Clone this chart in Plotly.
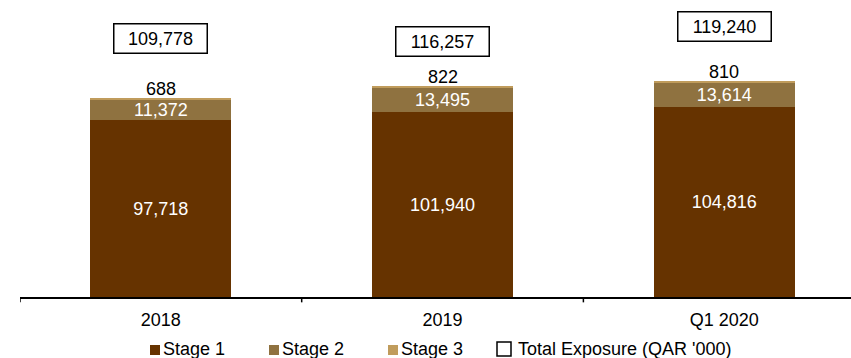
import plotly.graph_objects as go

categories = ["2018", "2019", "Q1 2020"]
stage1 = [97718, 101940, 104816]
stage2 = [11372, 13495, 13614]
stage3 = [688, 822, 810]
total_exposure = [109778, 116257, 119240]

series_names = ["Stage 1", "Stage 2", "Stage 3"]
total_name = "Total Exposure (QAR '000)"

# vertical pixel lift of each boxed total above its bar
total_box_lift = [60, 45, 55]

FONT = "Liberation Sans, Arial, sans-serif"
FS = 18
COLORS = ["#663300", "#8F7240", "#C09C5C"]

W, H = 851, 358
LEFT = 20             # left margin in px
PLOT_BOTTOM_PX = 61   # strip below the baseline reserved for labels and key


def px_x(px):
    """Figure pixel x -> paper fraction."""
    return (px - LEFT) / (W - LEFT)


def px_y(py):
    """Figure pixel y (from top) -> paper fraction."""
    return (H - py) / H


fig = go.Figure()
for vals, name, color in zip([stage1, stage2, stage3], series_names, COLORS):
    labelled = name != "Stage 3"
    fig.add_trace(go.Bar(
        x=categories, y=vals, name=name, marker_color=color,
        text=[f"{v:,}" for v in vals] if labelled else None,
        textposition="inside" if labelled else "none",
        insidetextanchor="middle",
        textfont=dict(color="white", size=FS, family=FONT),
        width=0.5, marker_line_width=0,
    ))

totals_stacked = [a + b + c for a, b, c in zip(stage1, stage2, stage3)]
for i, (top, s3, tot, lift) in enumerate(zip(totals_stacked, stage3, total_exposure, total_box_lift)):
    fig.add_annotation(
        x=i, y=top, text=f"{s3:,}", showarrow=False, yanchor="bottom",
        yshift=-3, font=dict(size=FS, color="black", family=FONT),
    )
    fig.add_annotation(
        x=i, y=top, text=f"{tot:,}", showarrow=False, yanchor="middle",
        yshift=lift, font=dict(size=FS, color="black", family=FONT),
        bordercolor="black", borderwidth=1.5, borderpad=3, bgcolor="white",
        width=86, height=22,
    )

# key along the bottom edge
KEY_Y = 349
KEY_X0, KEY_STEP = 150, 119
for k, (name, color) in enumerate(zip(series_names, COLORS)):
    x0 = KEY_X0 + k * KEY_STEP
    fig.add_shape(
        type="rect", xref="paper", yref="paper",
        x0=px_x(x0), x1=px_x(x0 + 10), y0=px_y(KEY_Y + 6), y1=px_y(KEY_Y - 4),
        fillcolor=color, line_width=0,
    )
    fig.add_annotation(
        xref="paper", yref="paper", x=px_x(x0 + 11), y=px_y(KEY_Y),
        text=name, showarrow=False, xanchor="left", yanchor="middle",
        font=dict(size=FS, color="black", family=FONT),
    )
tx = 497
fig.add_shape(
    type="rect", xref="paper", yref="paper",
    x0=px_x(tx), x1=px_x(tx + 14), y0=px_y(KEY_Y + 7), y1=px_y(KEY_Y - 7),
    fillcolor="white", line=dict(color="black", width=1.5),
)
fig.add_annotation(
    xref="paper", yref="paper", x=px_x(tx + 19), y=px_y(KEY_Y),
    text=total_name, showarrow=False, xanchor="left", yanchor="middle",
    font=dict(size=FS, color="black", family=FONT),
)

fig.update_layout(
    barmode="stack",
    width=W, height=H,
    margin=dict(l=LEFT, r=0, t=0, b=0),
    paper_bgcolor="white", plot_bgcolor="white",
    font=dict(family=FONT, size=FS, color="black"),
    uniformtext=dict(minsize=FS, mode="show"),
    showlegend=False,
    xaxis=dict(
        type="category", range=[-0.5, 2.45],
        showline=True, linecolor="black", linewidth=1.5,
        ticks="", showgrid=False, tickfont=dict(size=FS, family=FONT),
        ticklabelstandoff=6,
    ),
    yaxis=dict(
        range=[0, 164000], visible=False, showgrid=False,
        domain=[PLOT_BOTTOM_PX / H, 1],
    ),
)

# category boundary ticks along the baseline
for i in range(len(categories)):
    fig.add_shape(
        type="line", xref="x", yref="y domain", x0=i - 0.5, x1=i - 0.5,
        y0=0, y1=-0.018, line=dict(color="black", width=1.5),
    )

fig.write_html("out.html")
